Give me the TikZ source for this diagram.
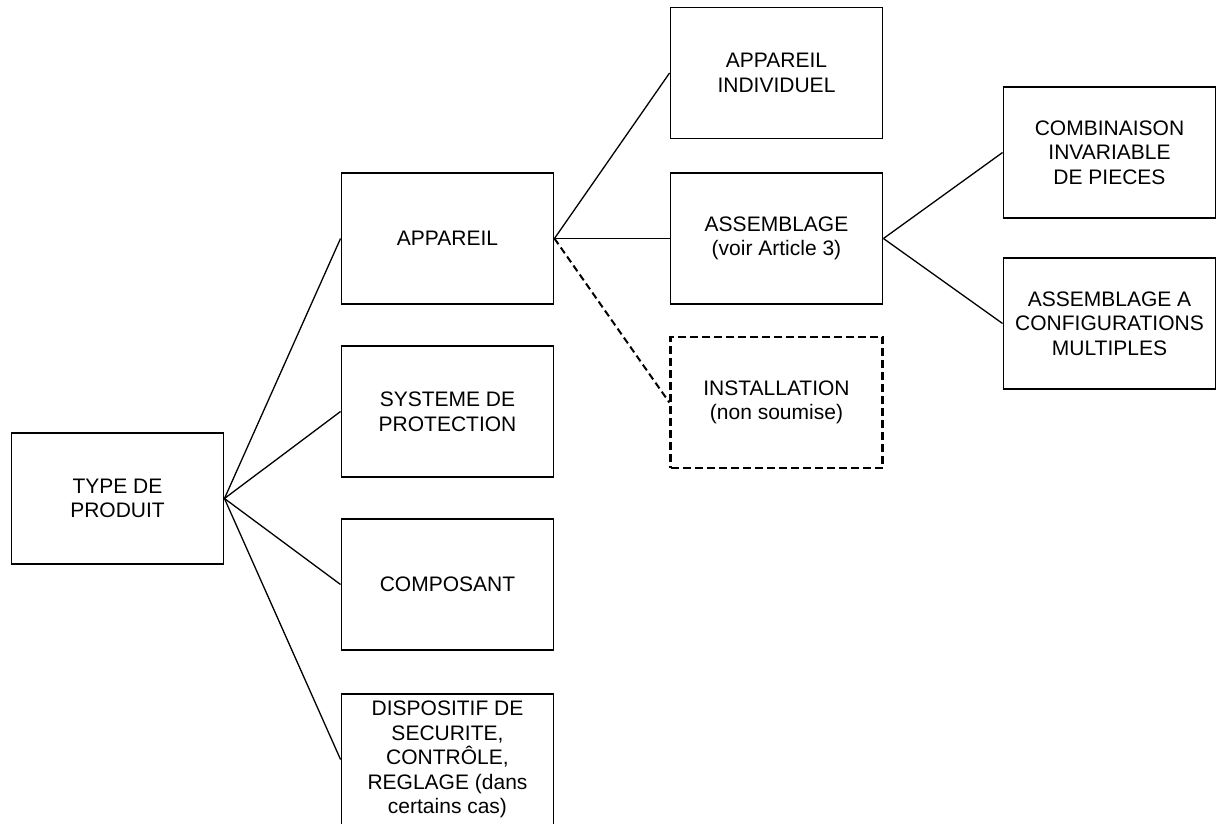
\documentclass[tikz,border=0pt]{standalone}
\usepackage{fontspec}
\setmainfont{Liberation Sans}
\begin{document}
\begin{tikzpicture}[x=1pt,y=-1pt,
  box/.style={draw,line width=1.9pt,minimum width=212pt,minimum height=131pt,inner sep=0pt,
    align=center,font=\fontsize{21}{24.6}\selectfont},
  dbox/.style={box,line width=2.3pt,dash pattern=on 8pt off 4pt},
  link/.style={line width=1.3pt},
  dlink/.style={line width=2pt,dash pattern=on 7pt off 4pt}]
\useasboundingbox (0,0) rectangle (1216,823);
\node[box] (type) at (117.5,498.5) {TYPE DE\\PRODUIT};
\node[box] (app) at (447.5,238.5) {APPAREIL};
\node[box] (sys) at (447.5,411.5) {SYSTEME DE\\PROTECTION};
\node[box] (comp) at (447.5,584.5) {COMPOSANT};
\node[box] (disp) at (447.5,759.5) {DISPOSITIF DE\\SECURITE,\\CONTRÔLE,\\REGLAGE (dans\\certains cas)};
\node[box] (ind) at (776.5,73) {APPAREIL\\INDIVIDUEL};
\node[box] (ass) at (776.5,238.5) {ASSEMBLAGE\\(voir Article 3)};
\node[dbox] (inst) at (776.5,402.5) {INSTALLATION\\(non soumise)};
\node[box] (comb) at (1109.5,152.5) {COMBINAISON\\INVARIABLE\\DE PIECES};
\node[box] (multi) at (1109.5,323.5) {ASSEMBLAGE A\\CONFIGURATIONS\\MULTIPLES};
\foreach \t in {app,sys,comp,disp} \draw[link] (type.east) -- (\t.west);
\draw[link] (app.east) -- (ind.west);
\draw[link] (app.east) -- (ass.west);
\draw[dlink] (app.east) -- (inst.west);
\draw[link] (ass.east) -- (comb.west);
\draw[link] (ass.east) -- (multi.west);
\end{tikzpicture}
\end{document}
